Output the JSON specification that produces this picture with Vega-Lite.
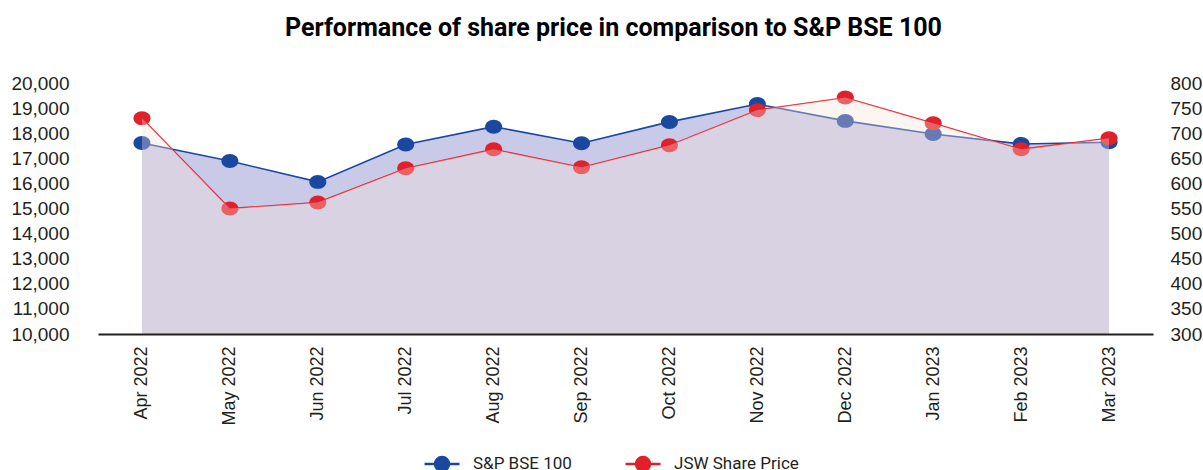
{
  "$schema": "https://vega.github.io/schema/vega-lite/v6.json",
  "width": 1055,
  "height": 251,
  "autosize": {"type": "none"},
  "padding": {"left": 98, "top": 83, "right": 50, "bottom": 136},
  "background": "white",
  "title": {
    "text": "Performance of share price in comparison to S&P BSE 100",
    "font": "Roboto",
    "fontSize": 25,
    "fontWeight": "bold",
    "color": "#000000",
    "anchor": "middle",
    "offset": 33,
    "dx": -12
  },
  "config": {"view": {"stroke": null}},
  "data": {
    "values": [
      {"month": "Apr 2022", "sp": 17610, "jsw": 730},
      {"month": "May 2022", "sp": 16890, "jsw": 550},
      {"month": "Jun 2022", "sp": 16060, "jsw": 562},
      {"month": "Jul 2022", "sp": 17550, "jsw": 630},
      {"month": "Aug 2022", "sp": 18260, "jsw": 668},
      {"month": "Sep 2022", "sp": 17600, "jsw": 632},
      {"month": "Oct 2022", "sp": 18450, "jsw": 676},
      {"month": "Nov 2022", "sp": 19160, "jsw": 746},
      {"month": "Dec 2022", "sp": 18490, "jsw": 771},
      {"month": "Jan 2023", "sp": 17970, "jsw": 720},
      {"month": "Feb 2023", "sp": 17570, "jsw": 668},
      {"month": "Mar 2023", "sp": 17640, "jsw": 690}
    ]
  },
  "encoding": {
    "x": {
      "field": "month",
      "type": "ordinal",
      "sort": null,
      "scale": {"type": "point", "padding": 0.5},
      "axis": {
        "title": null,
        "labelAngle": -90,
        "labelFont": "Liberation Sans",
        "labelFontSize": 18,
        "labelColor": "#231f20",
        "labelPadding": 12,
        "ticks": false,
        "grid": false,
        "domain": true,
        "domainColor": "#231f20",
        "domainWidth": 2,
        "zindex": 1
      }
    }
  },
  "layer": [
    {
      "encoding": {
        "y": {
          "field": "sp",
          "type": "quantitative",
          "scale": {"domain": [10000, 20000], "nice": false, "zero": false},
          "axis": {
            "title": null,
            "orient": "left",
            "values": [10000, 11000, 12000, 13000, 14000, 15000, 16000, 17000, 18000, 19000, 20000],
            "format": ",.0f",
            "labelFont": "Liberation Sans",
            "labelFontSize": 19,
            "labelColor": "#231f20",
            "labelPadding": 29,
            "ticks": false,
            "domain": false,
            "grid": false
          }
        }
      },
      "layer": [
        {"mark": {"type": "area", "color": "#c8cae8", "opacity": 1}, "encoding": {"y2": {"datum": 10000}}},
        {
          "mark": {"type": "line", "strokeWidth": 1.6},
          "encoding": {
            "color": {
              "datum": "S&P BSE 100",
              "scale": {"domain": ["S&P BSE 100", "JSW Share Price"], "range": ["#1a47a0", "#e0202a"]},
              "legend": {
                "title": null,
                "orient": "none",
                "legendX": 325,
                "legendY": 362,
                "direction": "horizontal",
                "symbolType": "M-1,0L1,0M-0.4,0A0.4,0.4,0,1,0,0.4,0A0.4,0.4,0,1,0,-0.4,0Z",
                "symbolSize": 1225,
                "symbolStrokeWidth": 2.5,
                "labelFont": "Roboto",
                "labelFontSize": 17,
                "labelColor": "#231f20",
                "labelOffset": 12,
                "columnPadding": 48,
                "encode": {
                  "symbols": {
                    "update": {
                      "fill": {"scale": "color", "field": "value"},
                      "stroke": {"scale": "color", "field": "value"},
                      "strokeWidth": {"value": 2.5},
                      "opacity": {"value": 1}
                    }
                  }
                }
              }
            }
          }
        },
        {
          "mark": {"type": "point", "filled": true, "opacity": 1, "size": 289, "shape": "M-1,0A1,0.82,0,1,0,1,0A1,0.82,0,1,0,-1,0Z"},
          "encoding": {"color": {"datum": "S&P BSE 100"}}
        }
      ]
    },
    {
      "encoding": {
        "y": {
          "field": "jsw",
          "type": "quantitative",
          "scale": {"domain": [300, 800], "nice": false, "zero": false},
          "axis": {
            "title": null,
            "orient": "right",
            "values": [300, 350, 400, 450, 500, 550, 600, 650, 700, 750, 800],
            "format": "d",
            "labelFont": "Liberation Sans",
            "labelFontSize": 19,
            "labelColor": "#231f20",
            "labelPadding": 17,
            "ticks": false,
            "domain": false,
            "grid": false
          }
        }
      },
      "layer": [
        {
          "mark": {"type": "line", "strokeWidth": 1.3},
          "encoding": {"color": {"datum": "JSW Share Price"}}
        },
        {
          "mark": {"type": "point", "filled": true, "opacity": 1, "size": 289, "shape": "M-1,0A1,0.82,0,1,0,1,0A1,0.82,0,1,0,-1,0Z"},
          "encoding": {"color": {"datum": "JSW Share Price"}}
        },
        {"mark": {"type": "area", "color": "#f9e2d9", "opacity": 0.34}, "encoding": {"y2": {"datum": 300}}}
      ]
    }
  ],
  "resolve": {"scale": {"y": "independent"}}
}
